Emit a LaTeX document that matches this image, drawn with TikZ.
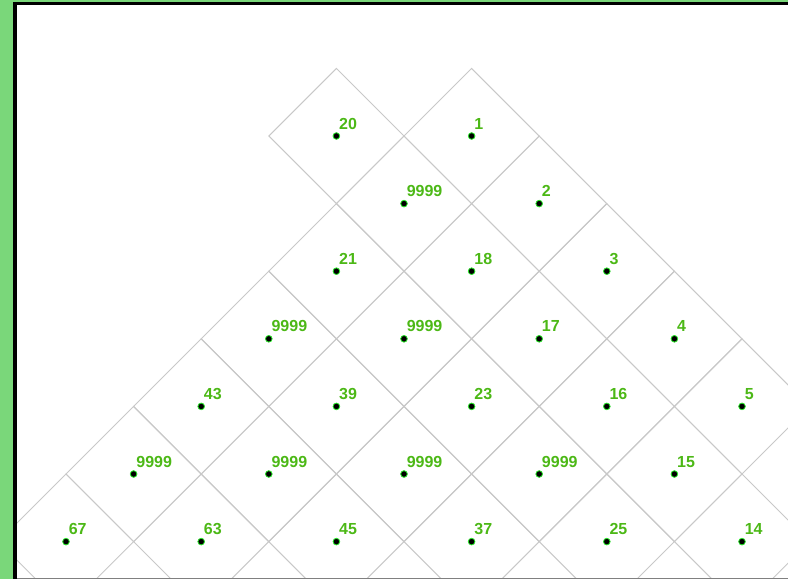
\documentclass[tikz,border=0pt]{standalone}
\usepackage{fontspec}
\setmainfont{Liberation Sans}
\usetikzlibrary{positioning}
\definecolor{sidegreen}{RGB}{122,215,122}
\definecolor{labelgreen}{RGB}{76,184,22}
\definecolor{dotgreen}{RGB}{40,230,40}
\definecolor{cellgray}{RGB}{200,200,200}
% cells: column/row/value
\newcommand{\celllist}{4/0/20, 6/0/1,
  5/1/9999, 7/1/2,
  4/2/21, 6/2/18, 8/2/3,
  3/3/9999, 5/3/9999, 7/3/17, 9/3/4,
  2/4/43, 4/4/39, 6/4/23, 8/4/16, 10/4/5,
  1/5/9999, 3/5/9999, 5/5/9999, 7/5/9999, 9/5/15,
  0/6/67, 2/6/63, 4/6/45, 6/6/37, 8/6/25, 10/6/14}

\begin{document}
\begin{tikzpicture}[x=0.75pt, y=-0.75pt,
  cellline/.style={draw=cellgray, line width=0.75pt},
  celldot/.style={circle, fill=black, draw=dotgreen, line width=0.6pt, inner sep=0pt, minimum size=5pt},
  celllabel/.style={anchor=base west, inner sep=0pt, text=labelgreen, font=\bfseries\fontsize{12}{14}\selectfont}]
  \useasboundingbox (0,0) rectangle (788,579);
  % frame
  \fill[sidegreen] (0,0) rectangle (13,579);
  \fill[sidegreen] (13,0) rectangle (788,2);
  \fill[black] (13,2) rectangle (17,579);
  \fill[black] (13,2) rectangle (788,5);
  \draw[gray, line width=0.75pt] (17,578) -- (788,578);
  % diamonds
  \begin{scope}
    \clip (17,5) rectangle (788,577.5);
    \foreach \c/\r/\txt in \celllist {
      \coordinate (m-\c-\r) at ({66+67.6*\c},{136+67.6*\r});
      \draw[cellline] (m-\c-\r) ++(-67.6,0) -- ++(67.6,-67.6) -- ++(67.6,67.6) -- ++(-67.6,67.6) -- cycle;
    }
  \end{scope}
  % dots and values
  \foreach \c/\r/\txt in \celllist {
    \node[celldot] (d-\c-\r) at ({66+67.6*\c},{136+67.6*\r}) {};
    \node[celllabel] (l-\c-\r) at ([shift={(2.5,-7)}]d-\c-\r.center) {\txt};
  }
\end{tikzpicture}
\end{document}
